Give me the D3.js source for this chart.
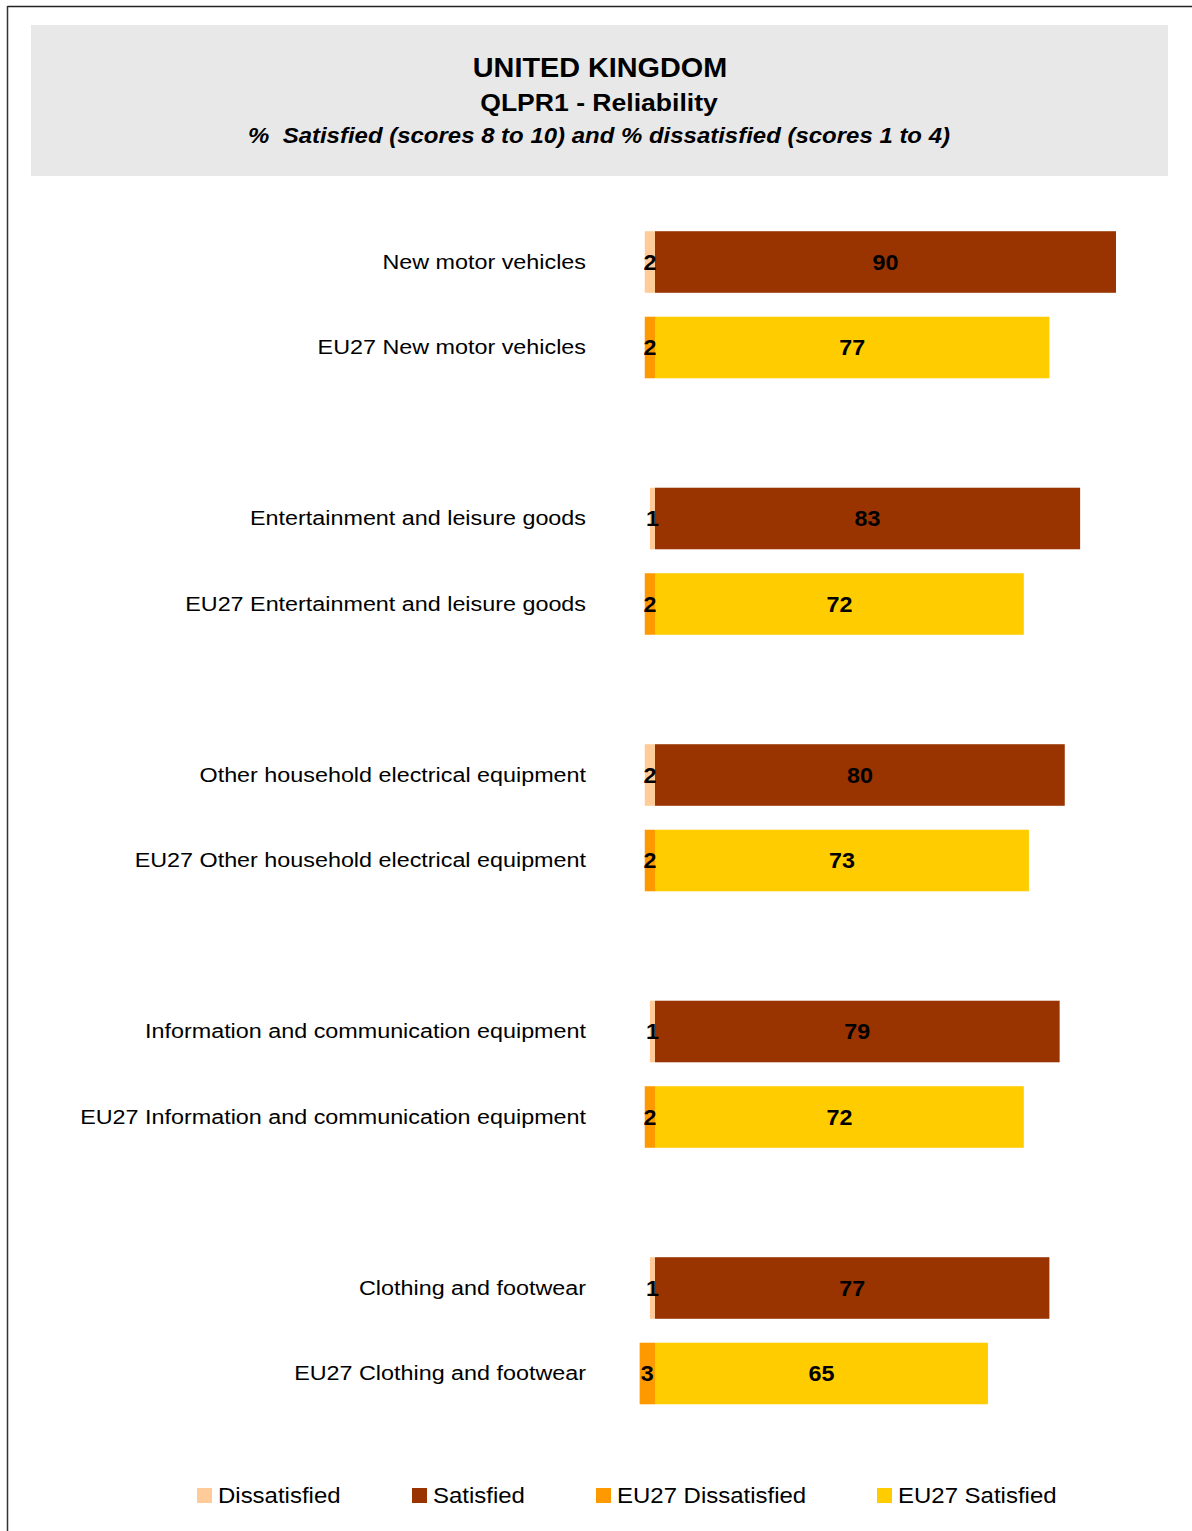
<!DOCTYPE html>
<html><head><meta charset="utf-8">
<script src="https://cdn.jsdelivr.net/npm/d3@7"></script>
<style>body{margin:0;background:#fff}svg{display:block;font-family:"Liberation Sans",Arial,sans-serif}</style>
</head><body>
<script>
const categories = ["New motor vehicles","EU27 New motor vehicles","Entertainment and leisure goods","EU27 Entertainment and leisure goods","Other household electrical equipment","EU27 Other household electrical equipment","Information and communication equipment","EU27 Information and communication equipment","Clothing and footwear","EU27 Clothing and footwear"];
const isEU = [false,true,false,true,false,true,false,true,false,true];
const dissatisfied = [2,2,1,2,2,2,1,2,1,3];
const satisfied = [90,77,83,72,80,73,79,72,77,65];
const legendLabels = ["Dissatisfied","Satisfied","EU27 Dissatisfied","EU27 Satisfied"];
const colors = {dis:"#FFCC99", sat:"#993300", euDis:"#FF9900", euSat:"#FFCC00"};

const W=1192,H=1531;
const svg=d3.select("body").append("svg").attr("width",W).attr("height",H);
// stretched text helper (reference glyphs are wider than Liberation Sans)
function stext(sel,x,y,str,size,sx,anchor,weight,style){
  return sel.append("text").attr("transform",`translate(${x},${y}) scale(${sx},1)`)
    .attr("text-anchor",anchor).attr("font-size",size).attr("font-weight",weight||"normal")
    .attr("font-style",style||"normal").attr("xml:space","preserve").text(str);
}
// frame
svg.append("line").attr("x1",7.5).attr("x2",W).attr("y1",6.5).attr("y2",6.5).attr("stroke","#222").attr("stroke-width",1.5);
svg.append("line").attr("x1",7.5).attr("x2",7.5).attr("y1",6).attr("y2",H).attr("stroke","#333").attr("stroke-width",1.5);
// header
svg.append("rect").attr("x",31).attr("y",25).attr("width",1137).attr("height",151).attr("fill","#E8E8E8");
stext(svg,600,77,"UNITED KINGDOM",27,1.067,"middle","bold");
stext(svg,599,111,"QLPR1 - Reliability",24,1.107,"middle","bold");
stext(svg,599,143,"%  Satisfied (scores 8 to 10) and % dissatisfied (scores 1 to 4)",22,1.09,"middle","bold","italic");

// slots: pairs with an empty slot between groups
const slots=[];
categories.forEach((c,i)=>{slots.push(c); if(i%2===1 && i<categories.length-1) slots.push("gap"+i);});
const y=d3.scaleBand().domain(slots).range([219.25,219.25+85.5*14]).paddingInner(0.28).paddingOuter(0.14);
const x=d3.scaleLinear().domain([0,100]).range([655,655+512.2]);

const data=categories.map((c,i)=>({c,eu:isEU[i],d:dissatisfied[i],s:satisfied[i]}));
const g=svg.append("g");
const rows=g.selectAll("g.row").data(data).join("g").attr("class","row");
rows.append("rect").attr("x",d=>x(-d.d)).attr("y",d=>y(d.c)).attr("width",d=>x(0)-x(-d.d)).attr("height",y.bandwidth()).attr("fill",d=>d.eu?colors.euDis:colors.dis);
rows.append("rect").attr("x",x(0)).attr("y",d=>y(d.c)).attr("width",d=>x(d.s)-x(0)).attr("height",y.bandwidth()).attr("fill",d=>d.eu?colors.euSat:colors.sat);
rows.each(function(d){
  const r=d3.select(this), cy=y(d.c)+y.bandwidth()/2;
  stext(r,x(-d.d/2),cy+7.5,String(d.d),22,1.06,"middle","bold");
  stext(r,x(d.s/2),cy+7.5,String(d.s),22,1.06,"middle","bold");
  stext(r,586,cy+6.5,d.c,21,1.112,"end");
});

// legend
const legX=[197,412,596,877];
const legC=[colors.dis,colors.sat,colors.euDis,colors.euSat];
const leg=svg.selectAll("g.leg").data(legendLabels).join("g").attr("class","leg");
leg.append("rect").attr("x",(d,i)=>legX[i]).attr("y",1488).attr("width",15).attr("height",15).attr("fill",(d,i)=>legC[i]);
leg.each(function(d,i){ stext(d3.select(this),legX[i]+21,1503,d,22,1.09,"start"); });
</script>
</body></html>
